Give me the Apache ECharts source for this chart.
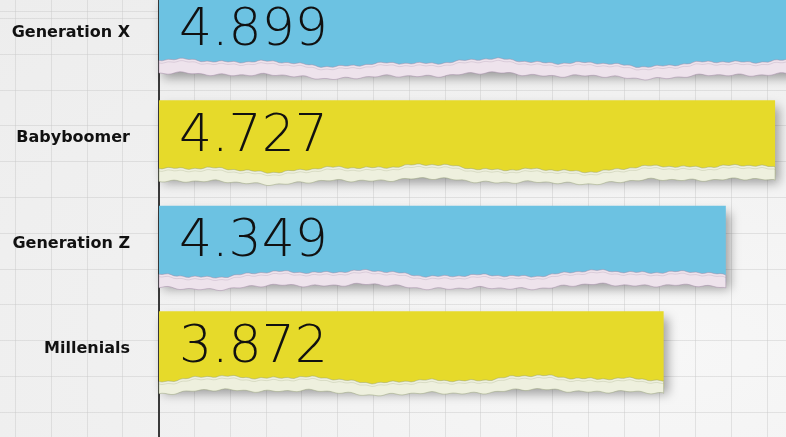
<!DOCTYPE html>
<html>
<head>
<meta charset="utf-8">
<script src="https://cdn.jsdelivr.net/npm/echarts@6/dist/echarts.min.js"></script>
<style>
html,body{margin:0;padding:0;width:786px;height:437px;overflow:hidden;}
body{
  background-color:#efefef;
  background-image:
    repeating-linear-gradient(to right, rgba(200,200,200,0.45) 0 1px, transparent 1px 35.8px),
    repeating-linear-gradient(to bottom, rgba(200,200,200,0.45) 0 1px, transparent 1px 35.8px),
    radial-gradient(ellipse at 85% 80%, #f7f7f7 0%, #f0f0f0 60%, #ededed 100%);
  background-position:15px 0, 0 18px, 0 0;
}
#chart{width:786px;height:437px;}
</style>
</head>
<body>
<div id="chart"></div>
<script>
const categories = ['Generation X', 'Babyboomer', 'Generation Z', 'Millenials'];
const values = [4.899, 4.727, 4.349, 3.872];
const valueLabels = ['4.899', '4.727', '4.349', '3.872'];

// styling (kept apart from data)
const barColors = ['#6cc2e2', '#e6da2a', '#6cc2e2', '#e6da2a'];
const edgeColors = ['#eee3ec', '#eef0de', '#eee3ec', '#eef0de'];
const edgeStrokes = ['rgba(160,135,165,0.6)', 'rgba(150,160,120,0.6)', 'rgba(160,135,165,0.6)', 'rgba(150,160,120,0.6)'];
const labelLift = [6, 16, 16, 8];

const chart = echarts.init(document.getElementById('chart'));

function wig(x, s) {
  return 2.6 * Math.sin(x / 47 + s) + 1.4 * Math.sin(x / 17 + 2 * s) + 0.7 * Math.sin(x / 6.3 + s);
}

const BAR_H = 76;

chart.setOption({
  animation: false,
  grid: [
    { left: 159, top: -20, height: 422, width: 782, outerBoundsMode: 'none', containLabel: false },
    { left: 159, top: 0, bottom: 0, width: 600, outerBoundsMode: 'none', containLabel: false }
  ],
  xAxis: [
    { type: 'value', min: 0, max: 6, gridIndex: 0, show: false },
    { type: 'value', gridIndex: 1, show: false }
  ],
  yAxis: [
    {
      type: 'category', inverse: true, gridIndex: 0,
      data: categories.map((c, i) => ({ value: c, textStyle: { padding: [0, 0, labelLift[i], 0] } })),
      axisLine: { show: false }, axisTick: { show: false },
      axisLabel: {
        margin: 29, color: '#111', fontSize: 16, fontWeight: 'bold',
        fontFamily: 'DejaVu Sans'
      }
    },
    {
      type: 'category', data: [''], gridIndex: 1,
      axisLine: { show: true, lineStyle: { color: '#3a3a3a', width: 2 } },
      axisTick: { show: false }, axisLabel: { show: false }
    }
  ],
  series: [
    {
      type: 'bar',
      data: values.map((v, i) => ({ value: v, itemStyle: { color: barColors[i] } })),
      barWidth: BAR_H,
      itemStyle: {
        shadowColor: 'rgba(0,0,0,0.35)', shadowBlur: 10, shadowOffsetX: 4, shadowOffsetY: 7
      },
      label: { show: false },
      z: 2
    },
    {
      type: 'custom',
      data: values.map((v, i) => [v, i]),
      z: 3,
      renderItem: function (params, api) {
        const i = api.value(1);
        const p0 = api.coord([0, i]);
        const p1 = api.coord([api.value(0), i]);
        const x0 = p0[0], x1 = Math.min(p1[0], 800);
        const yb = p0[1] + BAR_H / 2;
        const s = i * 1.7 + 0.5;
        const top = [], bot = [];
        for (let x = x0; x <= x1; x += 3) {
          const xx = Math.min(x, x1);
          const w = wig(xx, s);
          top.push([xx, yb - 8 + w + 0.6 * Math.sin(xx / 2.1)]);
          bot.push([xx, yb + 5 + 0.8 * w + 0.8 * Math.sin(xx / 3.3 + s)]);
        }
        const wl = wig(x1, s);
        top.push([x1, yb - 8 + wl]);
        bot.push([x1, yb + 5 + 0.8 * wl]);
        const pts = top.concat(bot.slice().reverse());
        return {
          type: 'group',
          children: [
            {
              type: 'polygon', shape: { points: pts },
              style: { fill: edgeColors[i], stroke: edgeStrokes[i], lineWidth: 0.8 }
            },
            {
              type: 'polyline', shape: { points: top.map(p => [p[0], p[1] + 2.5]) },
              style: { stroke: edgeStrokes[i], lineWidth: 0.7, fill: null, opacity: 0.6 }
            },
            {
              type: 'text',
              style: {
                text: valueLabels[i], x: x0 + 20, y: p0[1] - 1, verticalAlign: 'middle', align: 'left',
                font: '200 52px "DejaVu Sans", sans-serif', fill: '#111'
              }
            }
          ]
        };
      }
    }
  ]
});
</script>
</body>
</html>
